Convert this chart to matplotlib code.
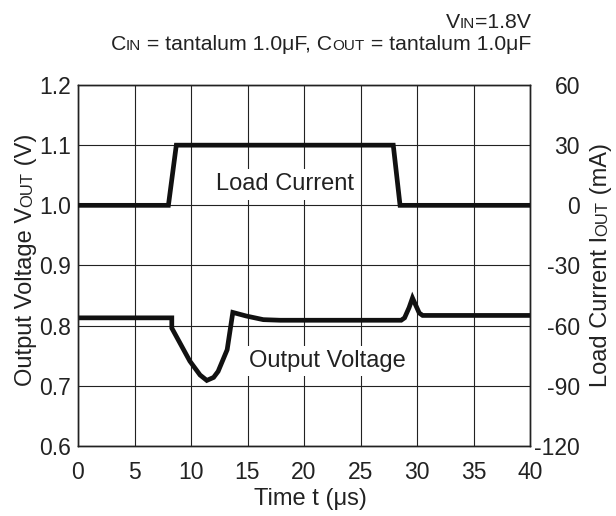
import numpy as np
import matplotlib
matplotlib.use('Agg')
import matplotlib.pyplot as plt
from matplotlib.font_manager import FontProperties
from matplotlib.transforms import IdentityTransform

FONT = 'Liberation Sans'
plt.rcParams['font.family'] = FONT

# load step (mA) vs time (us)
time_iout = [0, 8.0, 8.7, 27.9, 28.5, 40]
iout_ma = [0, 0, 30, 30, 0, 0]

# output voltage response (V) vs time (us)
time_vout = [0, 8.3, 8.3, 9.9, 10.8, 11.4, 12.0, 12.4, 13.2, 13.7, 14.9, 16.4, 17.9,
             28.6, 28.9, 29.3, 29.6, 30.2, 30.5, 40]
vout_v = [0.813, 0.813, 0.796, 0.741, 0.718, 0.709, 0.714, 0.724, 0.760, 0.822, 0.816,
          0.810, 0.809, 0.809, 0.813, 0.830, 0.846, 0.821, 0.817, 0.817]

x_ticks = [0, 5, 10, 15, 20, 25, 30, 35, 40]
v_ticks = [0.6, 0.7, 0.8, 0.9, 1.0, 1.1, 1.2]
i_ticks = [-120, -90, -60, -30, 0, 30, 60]

W, H = 616, 516
fig = plt.figure(figsize=(W / 100, H / 100), dpi=100)
ax = fig.add_axes([78 / W, 1 - 446 / H, 452 / W, 361 / H])
ax2 = ax.twinx()

ax.plot(time_vout, vout_v, color='#111111', lw=3.4, solid_joinstyle='miter', zorder=3)
ax2.plot(time_iout, iout_ma, color='#111111', lw=3.4, solid_joinstyle='miter', zorder=3)

ax.set_xlim(0, 40)
ax.set_ylim(0.6, 1.2)
ax2.set_ylim(-120, 60)
ax.set_xticks(x_ticks)
ax.set_yticks(v_ticks)
ax.set_yticklabels(['%.1f' % v for v in v_ticks])
ax2.set_yticks(i_ticks)
ax2.set_yticklabels([str(v) for v in i_ticks])

ax.grid(True, color='#222222', lw=0.8)
ax.tick_params(axis='x', length=0, pad=11, labelsize=16.5, labelcolor='#222222')
ax.tick_params(axis='y', length=0, pad=5, labelsize=16.5, labelcolor='#222222')
ax2.tick_params(axis='y', length=0, pad=36, labelsize=16.5, labelcolor='#222222')
for lbl in ax2.get_yticklabels():
    lbl.set_ha('right')
for a in (ax, ax2):
    for sp in a.spines.values():
        sp.set_color('#222222')
        sp.set_linewidth(1.0)

ax2.text(18.3, 7.5, 'Load Current', fontsize=17, color='#222222', ha='center', va='baseline',
         bbox=dict(boxstyle='square,pad=0.18', fc='white', ec='none'), zorder=2)
ax.text(22.1, 0.731, 'Output Voltage', fontsize=17, color='#222222', ha='center', va='baseline',
        bbox=dict(boxstyle='square,pad=0.18', fc='white', ec='none'), zorder=2)

renderer = fig.canvas.get_renderer()


def advance(s, size):
    prop = FontProperties(family=FONT, size=size)
    w1 = renderer.get_text_width_height_descent('|' + s + '|', prop, ismath=False)[0]
    w0 = renderer.get_text_width_height_descent('||', prop, ismath=False)[0]
    return w1 - w0


def rich_text(x, y, pieces, align='left', rotation=0):
    # x, y in pixels from the top-left corner; pieces are (text, size)
    lengths = [advance(s, size) for s, size in pieces]
    total = sum(lengths)
    shift = {'left': 0, 'center': 0.5, 'right': 1}[align] * total
    dx, dy = (0, 1) if rotation == 90 else (1, 0)
    px, py = x - dx * shift, (H - y) - dy * shift
    for (s, size), ln in zip(pieces, lengths):
        fig.text(px, py, s, fontsize=size, rotation=rotation, rotation_mode='anchor',
                 ha='left', va='baseline', color='#222222', transform=IdentityTransform())
        px += dx * ln
        py += dy * ln


big, small = 17, 12
rich_text(310, 505, [('Time t (\u03bcs)', big)], align='center')
rich_text(32, 260, [('Output Voltage V', big), ('OUT', small), (' (V)', big)],
          align='center', rotation=90)
rich_text(607, 265, [('Load Current I', big), ('OUT', small), (' (mA)', big)],
          align='center', rotation=90)

top, top_small = 15.3, 11
rich_text(531, 28, [('V', top), ('IN', top_small), ('=1.8V', top)], align='right')
rich_text(531, 50, [('C', top), ('IN', top_small), (' = tantalum 1.0\u03bcF, C', top),
                    ('OUT', top_small), (' = tantalum 1.0\u03bcF', top)], align='right')

fig.savefig('out.png', dpi=100)
